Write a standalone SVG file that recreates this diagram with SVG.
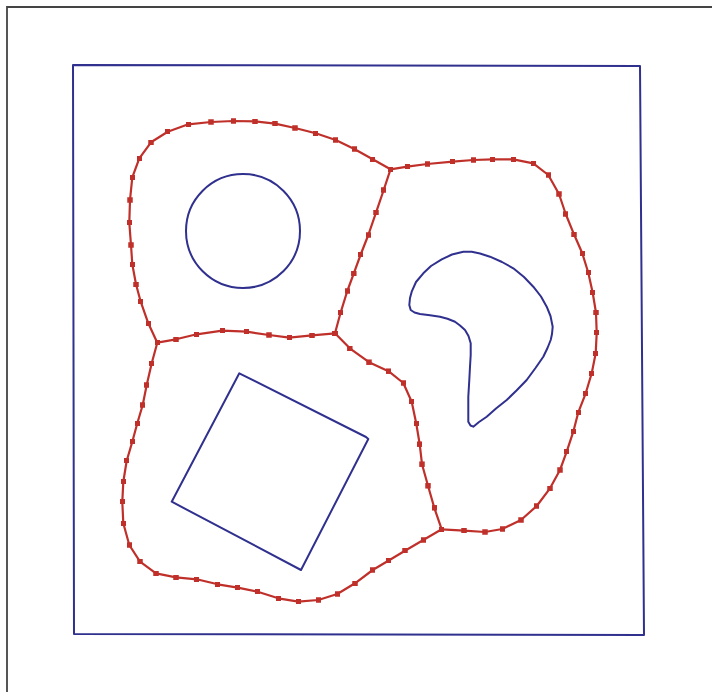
<svg xmlns="http://www.w3.org/2000/svg" width="712" height="692" viewBox="0 0 712 692">
<defs>
<marker id="dot" viewBox="0 0 6 6" refX="3" refY="3" markerWidth="5.5" markerHeight="5.5" markerUnits="userSpaceOnUse">
<rect x="0" y="0" width="6" height="6" fill="#c0302a"/>
</marker>
</defs>
<style>
.blue{fill:none;stroke:#30308f;stroke-width:2;stroke-linejoin:round}
.red{fill:none;stroke:#c0302a;stroke-width:2.2;stroke-linejoin:round;marker-start:url(#dot);marker-mid:url(#dot);marker-end:url(#dot)}
.frame{fill:none;stroke:#444;stroke-width:1.8}
</style>
<rect width="712" height="692" fill="#ffffff"/>
<polyline class="frame" points="7,692 7,7 712,7"/>
<g id="boundary">
<polygon class="blue" points="73,65 640,66 644,635 74,634"/>
</g>
<g id="obstacles">
<circle id="circle" class="blue" cx="243" cy="231" r="57"/>
<polygon id="square" class="blue" points="239.3,373.3 366,437 368.3,439 301,570 171.7,501.7"/>
<polygon id="crescent" class="blue" points="409.3,305 410,298 411.7,291.7 416,282 423.3,273.3 431,266 441.7,259.3 452,254.5 463.3,251.7 471.7,251.7 480,253.5 490,256.7 502,262 513.3,268.3 524,277 533.3,286.7 541,296.5 546.7,306.7 550.5,316 552.7,326.7 552,334 550.7,340 547.5,348 543.3,356.7 535.5,368 526.7,380 516.5,390.5 506.7,400 496,408.5 486.7,416.7 479,422 473.3,426.7 470.5,425.5 468.3,421.7 468.3,410 468.3,396.7 469.3,380 470,366.7 470.7,355 470.7,343.3 468.5,336 465,330 460,325.5 455,321.7 447.5,318.8 440,316.7 430,315.3 420,314 414.5,312.5 410.7,310"/>
</g>
<g id="connectors">
<polyline class="red" points="157.3,342.7 148.3,323.3 140.7,301.7 136,284.3 132.3,264.3 131,245 129.3,222.7 130,200 132.3,177.3 139.3,158.3 151,142.3 167.7,131.7 188.3,124.3 211,122 233.3,121 255,121.3 275,123.7 295,128 315.7,133.3 335.7,140 354.3,149 372.7,159.3 390.5,169.3"/>
<polyline class="red" points="390.5,169.3 383.7,190 376,212.7 368.3,235 360.7,254.5 353.8,273.3 347.3,291 340.7,312.3 335,333.3"/>
<polyline class="red" points="157.3,342.7 176,339.3 196.7,334.3 222.3,330.7 246.7,331.7 269,335 289.3,337.7 312,335.3 335,333.3"/>
<polyline class="red" points="390.5,169.3 407.3,166.7 427.3,164 452.7,161.7 473.3,160 492.3,159.3 513.3,159.3 533.3,163.3 548.3,175 559,194 565.7,214 574,234.3 582.3,253.3 588.3,272.7 592.7,292.7 596,312.7 596.7,332.7 595.7,353.3 591.7,373.3 585.7,393.3 578.3,412.3 573.3,431.7 566.7,451.7 560,470 550,488.3 536.7,506 521,520 502.3,529 485,532 464,530.7 441.7,529.3"/>
<polyline class="red" points="335,333.3 349.8,348.3 369,362.2 388.5,371.2 403.3,383 411.7,401.7 416.3,423.7 419.7,444.2 422,464.2 428,485.8 434.3,507.8 441.7,529.3"/>
<polyline class="red" points="157.3,342.7 151.7,363.3 146.7,385 142.7,405 137.3,423.3 132.3,441.7 126.7,460.7 123.3,481.7 122.3,501.7 123.3,523.3 129.3,545 140,561.7 156,573.3 176,577.3 196.7,579.3 217.7,584.3 237.7,587.7 257.7,591.7 278.3,598.3 298.3,601.7 318.3,600 337.3,594 355,583.3 372.7,570 388.3,560.7 405,550.7 423.3,540 441.7,529.3"/>
</g>
</svg>
